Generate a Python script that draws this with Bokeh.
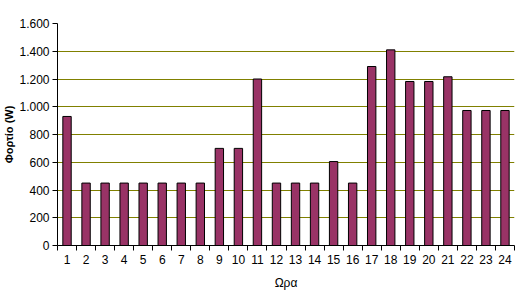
from bokeh.plotting import figure
from bokeh.models import FixedTicker, Range1d
from bokeh.embed import file_html
from bokeh.resources import INLINE

hours = list(range(1, 25))
load = [930, 450, 450, 450, 450, 450, 450, 450, 700, 700, 1200, 450,
        450, 450, 605, 450, 1290, 1410, 1182, 1182, 1216, 973, 973, 973]
y_ticks = [0, 200, 400, 600, 800, 1000, 1200, 1400, 1600]
y_labels = ["0", "200", "400", "600", "800", "1.000", "1.200", "1.400", "1.600"]

p = figure(width=529, height=305, output_backend="svg", toolbar_location=None,
           x_range=Range1d(0.5, 24.5), y_range=Range1d(0, 1600),
           min_border_left=54, min_border_right=15, min_border_top=23, min_border_bottom=60)
p.outline_line_color = None
p.background_fill_color = "white"

p.vbar(x=hours, top=load, width=0.44, fill_color="#993366", line_color="black", line_width=1)

p.xgrid.visible = False
p.ygrid.grid_line_color = "#808000"
p.ygrid.ticker = FixedTicker(ticks=y_ticks)

p.yaxis.ticker = FixedTicker(ticks=y_ticks)
p.yaxis.major_label_overrides = {t: l for t, l in zip(y_ticks, y_labels)}
p.yaxis.minor_tick_line_color = None
p.yaxis.major_tick_in = 0
p.yaxis.major_tick_out = 5
p.yaxis.axis_label = "Φορτίο (W)"
p.yaxis.axis_label_text_font_style = "bold"
p.yaxis.axis_label_text_font = "Liberation Sans"
p.yaxis.axis_label_text_font_size = "11px"
p.yaxis.axis_label_standoff = 1

p.xaxis.ticker = FixedTicker(ticks=hours, minor_ticks=[h + 0.5 for h in range(0, 25)])
p.xaxis.major_tick_line_color = None
p.xaxis.minor_tick_in = 0
p.xaxis.minor_tick_out = 5
p.xaxis.minor_tick_line_color = "black"
p.xaxis.axis_label = "Ωρα"
p.xaxis.axis_label_text_font_style = "normal"
p.xaxis.axis_label_text_font = "Liberation Sans"
p.xaxis.axis_label_text_font_size = "12px"
p.xaxis.axis_label_standoff = 9

for ax in (p.xaxis, p.yaxis):
    ax.axis_line_color = "black"
    ax.major_label_text_font = "Liberation Sans"
    ax.major_label_text_font_size = "12px"
    ax.major_label_text_color = "black"
    ax.axis_label_text_color = "black"
p.xaxis.major_label_standoff = 3
p.yaxis.major_label_standoff = 3

open("out.html", "w").write(file_html(p, INLINE))
